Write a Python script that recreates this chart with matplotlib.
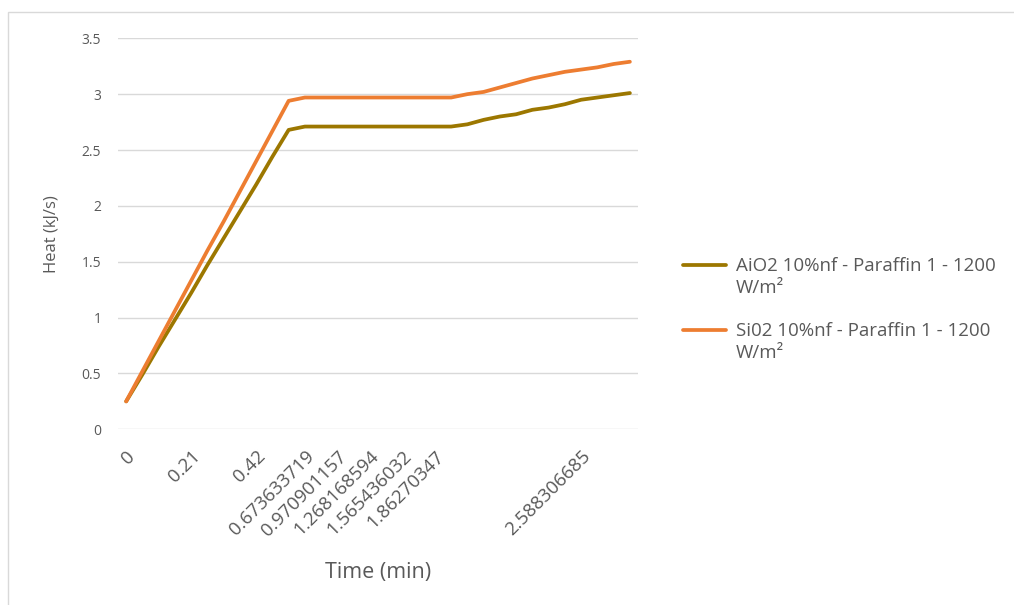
import matplotlib

matplotlib.use("Agg")
import matplotlib.pyplot as plt
from matplotlib.lines import Line2D
from matplotlib.patches import Rectangle
from matplotlib.transforms import ScaledTranslation

plt.rcParams["font.family"] = ["Open Sans", "DejaVu Sans"]

# Time categories (minutes); only some rows carry a printed label
time_labels = [
    "0", "", "", "", "0.21", "", "", "", "0.42", "", "", "0.673633719", "",
    "0.970901157", "", "1.268168594", "", "1.565436032", "", "1.86270347",
    "", "", "", "", "", "", "", "", "2.588306685", "", "", "",
]

# Heat rate (kJ/s) for each nanofluid / PCM case
aio2_heat = [
    0.25, 0.49, 0.74, 0.98, 1.22, 1.47, 1.71, 1.95, 2.19, 2.44, 2.68,
    2.71, 2.71, 2.71, 2.71, 2.71, 2.71, 2.71, 2.71, 2.71, 2.71,
    2.73, 2.77, 2.80, 2.82, 2.86, 2.88, 2.91, 2.95, 2.97, 2.99, 3.01,
]
sio2_heat = [
    0.25, 0.52, 0.79, 1.06, 1.33, 1.60, 1.86, 2.13, 2.40, 2.67, 2.94,
    2.97, 2.97, 2.97, 2.97, 2.97, 2.97, 2.97, 2.97, 2.97, 2.97,
    3.00, 3.02, 3.06, 3.10, 3.14, 3.17, 3.20, 3.22, 3.24, 3.27, 3.29,
]

series_names = [
    "AiO2 10%nf - Paraffin 1 - 1200\nW/m²",
    "Si02 10%nf - Paraffin 1 - 1200\nW/m²",
]
series_colors = ["#9C7700", "#ED7D31"]

text_color = "#595959"
grid_color = "#D9D9D9"

fig = plt.figure(figsize=(10.14, 6.05), dpi=100)
ax = fig.add_axes([0.1164, 0.2904, 0.5128, 0.6463])

x = list(range(len(time_labels)))
for values, name, color in zip([aio2_heat, sio2_heat], series_names, series_colors):
    ax.plot(x, values, color=color, linewidth=2.7, label=name,
            solid_capstyle="round", solid_joinstyle="round")

ax.set_xlim(-0.5, len(time_labels) - 0.5)
ax.set_ylim(0, 3.5)
ax.set_yticks([0, 0.5, 1, 1.5, 2, 2.5, 3, 3.5])
ax.set_yticklabels(["0", "0.5", "1", "1.5", "2", "2.5", "3", "3.5"])

shown = [i for i, lab in enumerate(time_labels) if lab]
ax.set_xticks(shown)
ax.set_xticklabels([time_labels[i] for i in shown], rotation=45,
                   ha="right", va="top", rotation_mode="anchor")
# nudge the slanted labels a little left so they end at their tick
nudge = ScaledTranslation(-3 / 72, 0, fig.dpi_scale_trans)
for lab in ax.get_xticklabels():
    lab.set_transform(lab.get_transform() + nudge)

ax.grid(axis="y", color=grid_color, linewidth=1)
ax.set_axisbelow(True)
for side in ["top", "right", "left", "bottom"]:
    ax.spines[side].set_visible(False)
ax.tick_params(axis="both", length=0, colors=text_color)
ax.tick_params(axis="x", pad=13, labelsize=13.5)
ax.tick_params(axis="y", pad=12, labelsize=10)

ax.set_xlabel("Time (min)", fontsize=15.5, color=text_color, labelpad=16)
ax.set_ylabel("Heat (kJ/s)", fontsize=12, color=text_color, labelpad=16)

# Legend: handle beside the first line of each wrapped label
legend_tops = [0.5752, 0.4678]
for name, color, top in zip(series_names, series_colors, legend_tops):
    yline = top - 8 / 605
    fig.add_artist(Line2D([683 / 1014, 726 / 1014], [yline, yline],
                          transform=fig.transFigure, color=color,
                          linewidth=2.7, solid_capstyle="round"))
    fig.text(736 / 1014, top, name, ha="left", va="top", fontsize=13.5,
             color=text_color, linespacing=1.3)

# Outer chart border
fig.add_artist(Rectangle((0.008, -0.01), 1.2, 0.99, transform=fig.transFigure,
                         fill=False, edgecolor=grid_color, linewidth=1))

fig.savefig("out.png", dpi=100)
